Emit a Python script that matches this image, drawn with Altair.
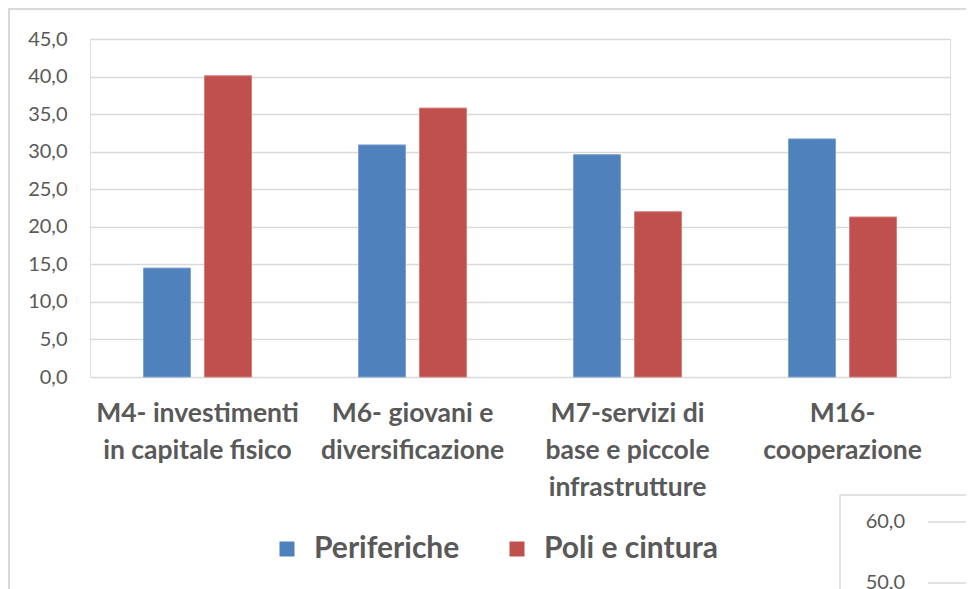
import altair as alt
import pandas as pd

categories = ["M4- investimenti|in capitale fisico",
              "M6- giovani e|diversificazione",
              "M7-servizi di|base e piccole|infrastrutture",
              "M16-|cooperazione"]
series = ["Periferiche", "Poli e cintura"]
periferiche = [14.5, 30.9, 29.6, 31.7]
poli = [40.1, 35.8, 22.0, 21.3]
colors = ["#4F81BD", "#C0504D"]
strokes = ["#7FA3CF", "#D27E7B"]

rows = []
for i, c in enumerate(categories):
    rows.append({"cat": c, "serie": series[0], "val": periferiche[i]})
    rows.append({"cat": c, "serie": series[1], "val": poli[i]})
df = pd.DataFrame(rows)

GRAY = "#595959"
FONT = "Lato"

bars = alt.Chart(df).mark_bar(strokeWidth=1).encode(
    x=alt.X("cat:N", sort=categories, title=None,
            scale=alt.Scale(paddingInner=0, paddingOuter=0),
            axis=alt.Axis(labelExpr="split(datum.label, '|')", labelAngle=0,
                          labelFont=FONT, labelFontWeight="bold", labelFontSize=26.5,
                          labelColor=GRAY, labelLineHeight=37, labelPadding=23,
                          domain=False, ticks=False, grid=False, labelLimit=300)),
    xOffset=alt.XOffset("serie:N", sort=series,
                        scale=alt.Scale(paddingInner=0.23, paddingOuter=0.877)),
    y=alt.Y("val:Q", title=None,
            scale=alt.Scale(domain=[0, 45], nice=False),
            axis=alt.Axis(values=[0, 5, 10, 15, 20, 25, 30, 35, 40, 45],
                          labelExpr="replace(format(datum.value, '.1f'), '.', ',')",
                          labelFont=FONT, labelFontSize=20, labelColor=GRAY,
                          labelPadding=23, domain=False, ticks=False,
                          gridColor="#d9d9d9", gridWidth=1.5)),
    color=alt.Color("serie:N", sort=series,
                    scale=alt.Scale(domain=series, range=colors),
                    legend=alt.Legend(title=None, orient="none", direction="horizontal",
                                      legendX=182, legendY=495,
                                      symbolType="square", symbolSize=225,
                                      symbolStrokeWidth=0,
                                      labelFont=FONT, labelFontWeight="bold",
                                      labelFontSize=30, labelColor=GRAY,
                                      labelOffset=12, columnPadding=42,
                                      labelLimit=400)),
    stroke=alt.Stroke("serie:N", sort=series,
                      scale=alt.Scale(domain=series, range=strokes), legend=None),
)

frame_df = pd.DataFrame({"k": [0]})
frame_top = alt.Chart(frame_df).mark_rule(color="#d9d9d9", strokeWidth=2).encode(
    x=alt.value(-82), x2=alt.value(900), y=alt.value(-30))
frame_left = alt.Chart(frame_df).mark_rule(color="#d9d9d9", strokeWidth=2).encode(
    x=alt.value(-81), y=alt.value(-31), y2=alt.value(560))

# fragment of another chart in the bottom-right corner
other_ticks = ["60,0", "50,0"]
other_y = [483, 544]
frag_box_top = alt.Chart(frame_df).mark_rule(color="#d9d9d9", strokeWidth=1.5).encode(
    x=alt.value(750), x2=alt.value(900), y=alt.value(456))
frag_box_left = alt.Chart(frame_df).mark_rule(color="#d9d9d9", strokeWidth=1.5).encode(
    x=alt.value(750), y=alt.value(456), y2=alt.value(560))
frag_df = pd.DataFrame({"t": other_ticks, "py": other_y})
frag_text = alt.Chart(frag_df).mark_text(align="right", baseline="middle", font=FONT,
                                         fontSize=20, color=GRAY).encode(
    x=alt.value(815), y=alt.Y("py:Q", scale=None), text="t:N")
frag_grid = alt.Chart(frag_df).mark_rule(color="#d9d9d9", strokeWidth=1.5).encode(
    x=alt.value(838), x2=alt.value(900), y=alt.Y("py:Q", scale=None))

chart = alt.layer(frame_top, frame_left, bars, frag_box_top, frag_box_left,
                  frag_text, frag_grid).resolve_scale(y="independent").properties(
    width=860, height=338,
    autosize=alt.AutoSizeParams(type="none"),
    padding={"left": 82, "top": 31, "right": 16, "bottom": 212},
).configure_view(stroke=None).configure(background="white")

chart.save("out.html", embed_options={"renderer": "svg", "actions": False})
